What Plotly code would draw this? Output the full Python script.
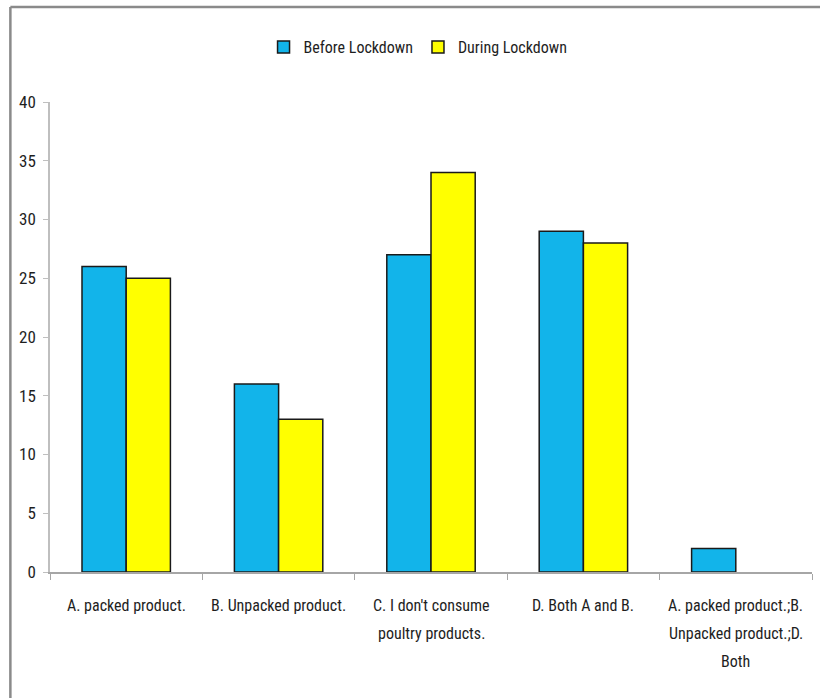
import plotly.graph_objects as go

categories = ["A. packed product.", "B. Unpacked product.", "C. I don't consume<br>poultry products.",
              "D. Both A and B.", "A. packed product.;B.<br>Unpacked product.;D.<br>Both"]
cat_keys = ["A", "B", "C", "D", "E"]
before = [26, 16, 27, 29, 2]
during = [25, 13, 34, 28, None]
series_names = ["Before Lockdown", "During Lockdown"]
y_ticks = [0, 5, 10, 15, 20, 25, 30, 35, 40]

FONT = "Roboto Condensed"
FS = 16
TXT = "#1e1e1e"

fig = go.Figure()
fig.add_trace(go.Bar(x=cat_keys, y=before, name=series_names[0],
                     marker=dict(color="#12B4EA", line=dict(color="#1a1a1a", width=1.5))))
fig.add_trace(go.Bar(x=cat_keys, y=during, name=series_names[1],
                     marker=dict(color="#FFFF00", line=dict(color="#1a1a1a", width=1.5))))

annotations = []
for key, lab in zip(cat_keys, categories):
    for i, line in enumerate(lab.split("<br>")):
        annotations.append(dict(x=key, xref="x", y=0, yref="paper", text=line, showarrow=False,
                                yanchor="middle", yshift=-(33 + 28 * i),
                                font=dict(family=FONT, size=FS, color=TXT)))

fig.update_layout(
    width=820, height=698,
    margin=dict(l=50, r=8, t=102, b=126),
    paper_bgcolor="white", plot_bgcolor="white",
    barmode="group", bargap=0.42, bargroupgap=0,
    font=dict(family=FONT, size=FS, color=TXT),
    showlegend=True,
    legend=dict(orientation="h", x=0.483, xanchor="center", y=1.117, yanchor="middle",
                font=dict(family=FONT, size=FS, color=TXT),
                itemwidth=30, traceorder="normal"),
    annotations=annotations,
    shapes=[dict(type="line", xref="paper", yref="paper", x0=-0.052, x1=1.2, y0=1.202, y1=1.202,
                 line=dict(color="#8a8a8a", width=2.5)),
            dict(type="line", xref="paper", yref="paper", x0=-0.052, x1=-0.052, y0=1.202, y1=-0.4,
                 line=dict(color="#8a8a8a", width=2.5))],
    xaxis=dict(type="category", showticklabels=False, showline=True, linecolor="#a6a6a6", linewidth=1.5,
               ticks="outside", tickson="boundaries", ticklen=6, tickcolor="#a6a6a6",
               showgrid=False, zeroline=False),
    yaxis=dict(range=[0, 40], tickvals=y_ticks, showline=True, linecolor="#bfbfbf", linewidth=1.5,
               ticks="outside", ticklen=5, tickcolor="#bfbfbf", showgrid=False, zeroline=False,
               tickfont=dict(family=FONT, size=17, color=TXT), ticklabelstandoff=4),
)

fig.write_html("out.html")
